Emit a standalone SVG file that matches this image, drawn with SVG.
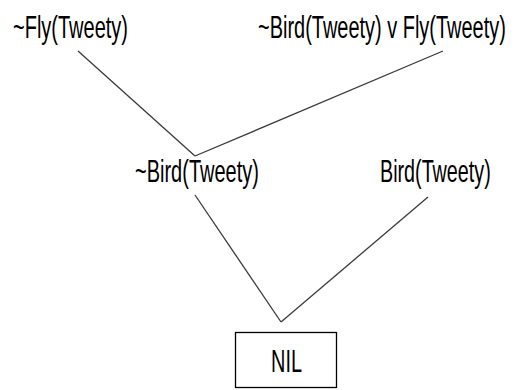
<svg xmlns="http://www.w3.org/2000/svg" width="515" height="390" viewBox="0 0 515 390">
<style>
.t{font-family:"Liberation Sans",Arial,sans-serif;font-size:31px;fill:#000}
.e{stroke:#3a3a3a;stroke-width:1.3;fill:none}
</style>
<rect width="515" height="390" fill="#fff"/>
<g id="connectors">
<line class="e" x1="78" y1="51" x2="195" y2="156"/>
<line class="e" x1="443" y1="51" x2="195" y2="156"/>
<line class="e" x1="195" y1="195" x2="281" y2="322"/>
<line class="e" x1="428" y1="197" x2="281" y2="322"/>
</g>
<g id="n1"><text class="t" transform="translate(13,38) scale(0.645,1)">~Fly(Tweety)</text></g>
<g id="n2"><text class="t" transform="translate(258,38) scale(0.644,1)">~Bird(Tweety) v Fly(Tweety)</text></g>
<g id="n3"><text class="t" transform="translate(135,182) scale(0.645,1)">~Bird(Tweety)</text></g>
<g id="n4"><text class="t" transform="translate(380,182) scale(0.637,1)">Bird(Tweety)</text></g>
<g id="nil">
<rect x="235.5" y="332.5" width="101" height="55" fill="#fff" stroke="#000" stroke-width="1.3"/>
<text class="t" transform="translate(271,372) scale(0.643,1)">NIL</text>
</g>
</svg>
